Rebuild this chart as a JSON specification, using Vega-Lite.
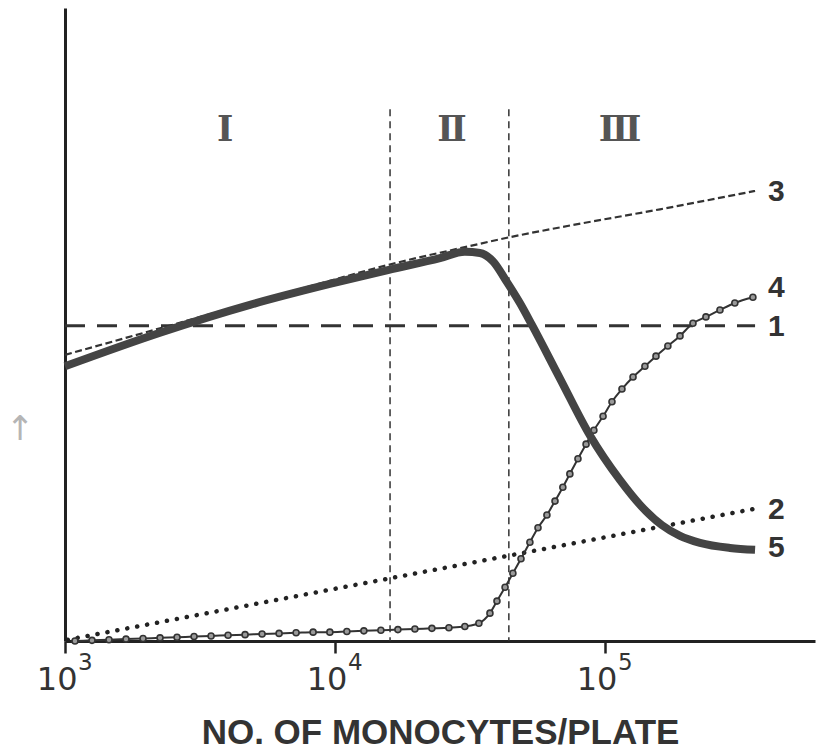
{
  "$schema": "https://vega.github.io/schema/vega-lite/v6.json",
  "autosize": "none",
  "width": 750,
  "height": 633,
  "padding": {"left": 65, "right": 4, "top": 8, "bottom": 111},
  "background": "white",
  "config": {"view": {"stroke": null}},
  "encoding": {
    "x": {
      "field": "log_n",
      "type": "quantitative",
      "scale": {"domain": [3, 5.778], "nice": false, "zero": false},
      "axis": {
        "title": "NO. OF MONOCYTES/PLATE",
        "titleFont": "Liberation Sans",
        "titleFontSize": 35,
        "titleFontWeight": "bold",
        "titleColor": "#333333",
        "titleBaseline": "alphabetic",
        "titleY": 102,
        "values": [3, 4, 5],
        "labelExpr": "'10'",
        "labelFont": "DejaVu Sans",
        "labelFontSize": 32,
        "labelColor": "#333333",
        "labelBaseline": "alphabetic",
        "labelAlign": "right",
        "labelOffset": 12,
        "labelPadding": 36,
        "labelFlush": false,
        "labelOverlap": false,
        "tickSize": 12,
        "tickWidth": 2.5,
        "tickColor": "#222222",
        "domainWidth": 3,
        "domainColor": "#222222",
        "grid": false
      }
    },
    "y": {
      "field": "level",
      "type": "quantitative",
      "scale": {"domain": [0, 100], "nice": false},
      "axis": {
        "title": null,
        "labels": false,
        "ticks": false,
        "grid": false,
        "domainWidth": 3,
        "domainColor": "#222222"
      }
    }
  },
  "layer": [
    {
      "description": "Boundaries between regions I, II and III",
      "data": {"values": [{"log_n": 4.204, "level": 84}, {"log_n": 4.644, "level": 84}]},
      "mark": {"type": "rule", "color": "#333333", "strokeWidth": 1.5, "strokeDash": [7, 5]},
      "encoding": {"y2": {"datum": 0}}
    },
    {
      "description": "Curve 1",
      "data": {"values": [{"log_n": 3.0, "level": 49.8}, {"log_n": 5.556, "level": 49.8}]},
      "mark": {"type": "line", "color": "#333333", "strokeWidth": 3, "strokeDash": [20, 12]},
      "encoding": {}
    },
    {
      "description": "Curve 3",
      "data": {"values": [
        {"log_n": 3.0, "level": 45.2},
        {"log_n": 3.352, "level": 49.4},
        {"log_n": 3.685, "level": 53.4},
        {"log_n": 3.981, "level": 56.9},
        {"log_n": 4.196, "level": 59.4},
        {"log_n": 4.5, "level": 62.4},
        {"log_n": 4.637, "level": 63.7},
        {"log_n": 4.841, "level": 65.4},
        {"log_n": 5.204, "level": 68.2},
        {"log_n": 5.556, "level": 71.1}
      ]},
      "mark": {"type": "line", "color": "#333333", "strokeWidth": 2.2, "strokeDash": [7, 3.5], "interpolate": "monotone"},
      "encoding": {}
    },
    {
      "description": "Curve 2",
      "data": {"values": [{"log_n": 3.01, "level": 0.2}, {"log_n": 5.556, "level": 20.9}]},
      "mark": {"type": "line", "color": "#222222", "strokeWidth": 4.5, "strokeCap": "round", "strokeDash": [0.1, 10]},
      "encoding": {}
    },
    {
      "description": "Curve 4",
      "data": {"name": "curve4", "values": [
        {"log_n": 3.037, "level": 0.0},
        {"log_n": 3.100, "level": 0.1},
        {"log_n": 3.163, "level": 0.2},
        {"log_n": 3.226, "level": 0.3},
        {"log_n": 3.289, "level": 0.4},
        {"log_n": 3.352, "level": 0.5},
        {"log_n": 3.415, "level": 0.6},
        {"log_n": 3.478, "level": 0.7},
        {"log_n": 3.541, "level": 0.8},
        {"log_n": 3.604, "level": 0.9},
        {"log_n": 3.667, "level": 1.0},
        {"log_n": 3.730, "level": 1.1},
        {"log_n": 3.793, "level": 1.2},
        {"log_n": 3.856, "level": 1.3},
        {"log_n": 3.919, "level": 1.4},
        {"log_n": 3.981, "level": 1.4},
        {"log_n": 4.044, "level": 1.5},
        {"log_n": 4.107, "level": 1.6},
        {"log_n": 4.170, "level": 1.7},
        {"log_n": 4.233, "level": 1.8},
        {"log_n": 4.296, "level": 1.9},
        {"log_n": 4.359, "level": 2.0},
        {"log_n": 4.422, "level": 2.1},
        {"log_n": 4.481, "level": 2.3},
        {"log_n": 4.533, "level": 2.8},
        {"log_n": 4.574, "level": 4.4},
        {"log_n": 4.600, "level": 6.3},
        {"log_n": 4.630, "level": 8.5},
        {"log_n": 4.659, "level": 10.7},
        {"log_n": 4.689, "level": 13.0},
        {"log_n": 4.722, "level": 15.6},
        {"log_n": 4.752, "level": 17.9},
        {"log_n": 4.785, "level": 19.9},
        {"log_n": 4.815, "level": 22.1},
        {"log_n": 4.844, "level": 24.3},
        {"log_n": 4.870, "level": 26.4},
        {"log_n": 4.900, "level": 28.8},
        {"log_n": 4.930, "level": 31.1},
        {"log_n": 4.959, "level": 33.3},
        {"log_n": 4.993, "level": 35.5},
        {"log_n": 5.026, "level": 37.8},
        {"log_n": 5.063, "level": 39.8},
        {"log_n": 5.104, "level": 41.7},
        {"log_n": 5.148, "level": 43.4},
        {"log_n": 5.189, "level": 45.0},
        {"log_n": 5.233, "level": 46.6},
        {"log_n": 5.278, "level": 48.2},
        {"log_n": 5.326, "level": 50.2},
        {"log_n": 5.374, "level": 51.2},
        {"log_n": 5.426, "level": 52.3},
        {"log_n": 5.481, "level": 53.4},
        {"log_n": 5.548, "level": 54.3}
      ]},
      "layer": [
        {"mark": {"type": "line", "color": "#333333", "strokeWidth": 2, "interpolate": "monotone"}, "encoding": {}},
        {"mark": {"type": "point", "shape": "circle", "size": 36, "filled": true, "fill": "#9a9a9a", "stroke": "#333333", "strokeWidth": 1.6, "opacity": 1}}
      ]
    },
    {
      "description": "Curve 5",
      "data": {"values": [
        {"log_n": 3.0, "level": 43.4},
        {"log_n": 3.352, "level": 48.7},
        {"log_n": 3.685, "level": 53.1},
        {"log_n": 3.981, "level": 56.4},
        {"log_n": 4.196, "level": 58.6},
        {"log_n": 4.389, "level": 60.5},
        {"log_n": 4.481, "level": 61.5},
        {"log_n": 4.537, "level": 61.3},
        {"log_n": 4.585, "level": 60.0},
        {"log_n": 4.637, "level": 56.7},
        {"log_n": 4.685, "level": 53.4},
        {"log_n": 4.730, "level": 49.9},
        {"log_n": 4.833, "level": 41.5},
        {"log_n": 4.944, "level": 32.5},
        {"log_n": 5.056, "level": 25.4},
        {"log_n": 5.130, "level": 21.5},
        {"log_n": 5.211, "level": 18.3},
        {"log_n": 5.278, "level": 16.6},
        {"log_n": 5.352, "level": 15.5},
        {"log_n": 5.463, "level": 14.7},
        {"log_n": 5.556, "level": 14.4}
      ]},
      "mark": {"type": "line", "color": "#444444", "strokeWidth": 8, "interpolate": "monotone"},
      "encoding": {}
    },
    {
      "description": "Decade exponents written after each '10' tick label",
      "data": {"values": [
        {"log_n": 3, "level": -4.6, "label": "3"},
        {"log_n": 4, "level": -4.6, "label": "4"},
        {"log_n": 5, "level": -4.6, "label": "5"}
      ]},
      "mark": {"type": "text", "font": "DejaVu Sans", "fontSize": 23, "color": "#333333", "align": "left", "baseline": "alphabetic", "dx": 13},
      "encoding": {"text": {"field": "label"}}
    },
    {
      "description": "Region numerals",
      "data": {"values": [
        {"log_n": 3.593, "level": 80.7, "label": "Ⅰ"},
        {"log_n": 4.433, "level": 80.7, "label": "Ⅱ"},
        {"log_n": 5.056, "level": 80.7, "label": "Ⅲ"}
      ]},
      "mark": {"type": "text", "font": "DejaVu Serif", "fontSize": 35, "fontWeight": "bold", "color": "#555555", "align": "center", "baseline": "middle"},
      "encoding": {"text": {"field": "label"}}
    },
    {
      "description": "Curve numbers",
      "data": {"values": [
        {"log_n": 5.604, "level": 70.9, "label": "3"},
        {"log_n": 5.604, "level": 55.8, "label": "4"},
        {"log_n": 5.604, "level": 49.6, "label": "1"},
        {"log_n": 5.604, "level": 20.7, "label": "2"},
        {"log_n": 5.604, "level": 14.7, "label": "5"}
      ]},
      "mark": {"type": "text", "font": "Liberation Sans", "fontSize": 30, "fontWeight": "bold", "color": "#333333", "align": "left", "baseline": "middle"},
      "encoding": {"text": {"field": "label"}}
    },
    {
      "description": "Upward arrow beside the vertical axis",
      "data": {"values": [{"log_n": 2.833, "level": 33.3, "label": "↑"}]},
      "mark": {"type": "text", "font": "DejaVu Sans", "fontSize": 34, "fontWeight": "normal", "color": "#b5b5b5", "align": "center", "baseline": "middle"},
      "encoding": {"text": {"field": "label"}}
    }
  ]
}
